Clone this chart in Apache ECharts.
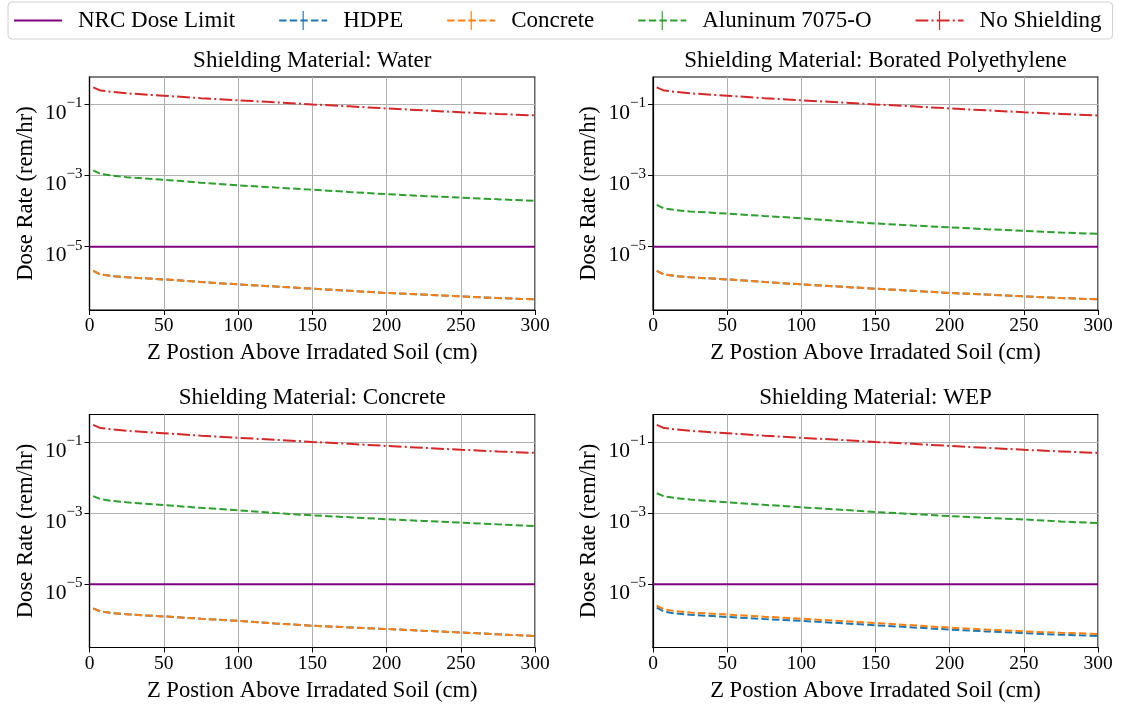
<!DOCTYPE html>
<html><head><meta charset="utf-8">
<script src="https://cdn.jsdelivr.net/npm/echarts@6/dist/echarts.min.js"></script>
<style>html,body{margin:0;padding:0;background:#fff}#c{width:1128px;height:706px}</style>
</head><body><div id="c"></div>
<script>
// ---- data ----
const zPos = [2.5, 7.5, 15, 25, 50, 75, 100, 125, 150, 175, 200, 225, 250, 275, 300];
const panelTitles = ['Shielding Material: Water', 'Shielding Material: Borated Polyethylene', 'Shielding Material: Concrete', 'Shielding Material: WEP'];
const seriesNames = ['NRC Dose Limit', 'HDPE', 'Concrete', 'Aluninum 7075-O', 'No Shielding'];
const nrcX = [0, 300];
const nrcLimit = 1e-5;
const noShielding = [0.30, 0.245, 0.225, 0.205, 0.175, 0.15, 0.13, 0.115, 0.10, 0.088, 0.077, 0.068, 0.060, 0.054, 0.049];
const hdpeWater = [2.1e-6, 1.65e-6, 1.5e-6, 1.38e-6, 1.2e-6, 1.02e-6, 8.7e-7, 7.6e-7, 6.6e-7, 5.75e-7, 5.0e-7, 4.5e-7, 4.0e-7, 3.6e-7, 3.3e-7];
const concreteWater = [2.1e-6, 1.65e-6, 1.5e-6, 1.38e-6, 1.2e-6, 1.02e-6, 8.7e-7, 7.6e-7, 6.6e-7, 5.75e-7, 5.0e-7, 4.5e-7, 4.0e-7, 3.6e-7, 3.3e-7];
const aluminumWater = [1.4e-3, 1.1e-3, 1.0e-3, 9.0e-4, 7.6e-4, 6.3e-4, 5.3e-4, 4.6e-4, 4.0e-4, 3.45e-4, 3.0e-4, 2.65e-4, 2.4e-4, 2.15e-4, 1.94e-4];
const hdpeBorated = [2.1e-6, 1.65e-6, 1.5e-6, 1.38e-6, 1.2e-6, 1.02e-6, 8.7e-7, 7.6e-7, 6.6e-7, 5.75e-7, 5.0e-7, 4.5e-7, 4.0e-7, 3.6e-7, 3.3e-7];
const concreteBorated = [2.1e-6, 1.65e-6, 1.5e-6, 1.38e-6, 1.2e-6, 1.02e-6, 8.7e-7, 7.6e-7, 6.6e-7, 5.75e-7, 5.0e-7, 4.5e-7, 4.0e-7, 3.6e-7, 3.3e-7];
const aluminumBorated = [1.5e-4, 1.18e-4, 1.07e-4, 9.8e-5, 8.5e-5, 7.3e-5, 6.3e-5, 5.3e-5, 4.5e-5, 3.95e-5, 3.5e-5, 3.1e-5, 2.8e-5, 2.5e-5, 2.3e-5];
const hdpeConcrete = [2.1e-6, 1.7e-6, 1.55e-6, 1.42e-6, 1.24e-6, 1.07e-6, 9.3e-7, 7.9e-7, 6.8e-7, 6.1e-7, 5.5e-7, 4.9e-7, 4.4e-7, 3.9e-7, 3.5e-7];
const concreteConcrete = [2.1e-6, 1.7e-6, 1.55e-6, 1.42e-6, 1.24e-6, 1.07e-6, 9.3e-7, 7.9e-7, 6.8e-7, 6.1e-7, 5.5e-7, 4.9e-7, 4.4e-7, 3.9e-7, 3.5e-7];
const aluminumConcrete = [3.0e-3, 2.45e-3, 2.2e-3, 2.0e-3, 1.67e-3, 1.4e-3, 1.19e-3, 1.0e-3, 8.6e-4, 7.6e-4, 6.7e-4, 6.0e-4, 5.4e-4, 4.8e-4, 4.3e-4];
const hdpeWEP = [2.2e-6, 1.7e-6, 1.5e-6, 1.38e-6, 1.2e-6, 1.05e-6, 9.3e-7, 8.1e-7, 7.0e-7, 6.1e-7, 5.3e-7, 4.7e-7, 4.2e-7, 3.8e-7, 3.5e-7];
const concreteWEP = [2.5e-6, 1.95e-6, 1.75e-6, 1.6e-6, 1.4e-6, 1.22e-6, 1.07e-6, 9.3e-7, 8.1e-7, 7.0e-7, 6.0e-7, 5.3e-7, 4.7e-7, 4.3e-7, 4.0e-7];
const aluminumWEP = [3.6e-3, 2.95e-3, 2.65e-3, 2.4e-3, 2.0e-3, 1.7e-3, 1.45e-3, 1.25e-3, 1.07e-3, 9.4e-4, 8.2e-4, 7.3e-4, 6.6e-4, 5.8e-4, 5.2e-4];
const xTickValues = [0, 50, 100, 150, 200, 250, 300];
const yTickValues = [1e-1, 1e-3, 1e-5];

const panelData = [
  [hdpeWater, concreteWater, aluminumWater],
  [hdpeBorated, concreteBorated, aluminumBorated],
  [hdpeConcrete, concreteConcrete, aluminumConcrete],
  [hdpeWEP, concreteWEP, aluminumWEP]
];

// ---- styling ----
const FONT = 'Liberation Serif';
const colors = ['#800080', '#1f77b4', '#ff7f0e', '#2ca02c', '#d62728'];
const lineTypes = ['solid', [7.4, 3.2], [7.4, 3.2], [7.4, 3.2], [12.8, 3.2, 2, 3.2]];
const barSymbol = 'path://M0,10 L0.02,10 L0.02,10.02 Z M20,10 L19.98,10 L19.98,10.02 Z M9.4,0 L10.6,0 L10.6,20 L9.4,20 Z';
const noSymbol = 'path://M0,0 L0.02,0 L0.02,0.02 Z M20,20 L19.98,20 L19.98,19.98 Z';
const grids = [
  {left: 89.5, top: 77, width: 445.5, height: 233},
  {left: 653, top: 77, width: 445, height: 233},
  {left: 89.5, top: 414.5, width: 445.5, height: 233},
  {left: 653, top: 414.5, width: 445, height: 233}
];
const yMin = Math.pow(10, -6.78), yMax = Math.pow(10, -0.23);

function yFmt(v) {
  const e = Math.round(Math.log10(v));
  return '{b|10}{s|' + (e < 0 ? '\u2212' : '') + Math.abs(e) + '}';
}

const xAxes = [], yAxes = [], series = [];
grids.forEach((g, i) => {
  xAxes.push({
    type: 'value', gridIndex: i, min: 0, max: 300, interval: 50,
    axisLine: {show: true, lineStyle: {color: '#000', width: 1.2}},
    axisTick: {show: true, length: 5, lineStyle: {color: '#000'}},
    axisLabel: {fontFamily: FONT, fontSize: 19.5, color: '#000', margin: 6, customValues: xTickValues},
    splitLine: {show: true, lineStyle: {color: '#b0b0b0', width: 1}},
    name: 'Z Postion Above Irradated Soil (cm)', nameLocation: 'middle', nameGap: 32,
    nameTextStyle: {fontFamily: FONT, fontSize: 22.6, color: '#000'}
  });
  xAxes.push({
    type: 'value', gridIndex: i, min: 0, max: 300, position: 'top',
    axisLine: {show: false}, axisTick: {show: false}, axisLabel: {show: false}, splitLine: {show: false},
    name: panelTitles[i], nameLocation: 'middle', nameGap: 5,
    nameTextStyle: {fontFamily: FONT, fontSize: 23, color: '#000'}
  });
  yAxes.push({
    type: 'log', gridIndex: i, min: yMin, max: yMax, logBase: 10,
    axisLine: {show: true, lineStyle: {color: '#000', width: 1.2}},
    axisTick: {show: true, length: 5, lineStyle: {color: '#000'}, customValues: yTickValues},
    axisLabel: {fontFamily: FONT, color: '#000', margin: 7, formatter: yFmt, customValues: yTickValues,
      padding: [18, 0, 0, 0],
      rich: {b: {fontFamily: FONT, fontSize: 21.5, color: '#000'},
             s: {fontFamily: FONT, fontSize: 15, color: '#000', padding: [0, 0, 20, 0]}}},
    splitLine: {show: true, lineStyle: {color: '#b0b0b0', width: 1}},
    minorTick: {show: false}, minorSplitLine: {show: false},
    name: 'Dose Rate (rem/hr)', nameLocation: 'middle', nameGap: 52,
    nameTextStyle: {fontFamily: FONT, fontSize: 22.6, color: '#000'}
  });

  const common = {type: 'line', xAxisIndex: i * 2, yAxisIndex: i, showSymbol: false, symbol: barSymbol, animation: false, silent: true};
  series.push(Object.assign({}, common, {
    name: seriesNames[0], symbol: noSymbol,
    data: nrcX.map(x => [x, nrcLimit]),
    lineStyle: {color: colors[0], width: 2, type: lineTypes[0]}, itemStyle: {color: colors[0]}
  }));
  const vals = [panelData[i][0], panelData[i][1], panelData[i][2], noShielding];
  vals.forEach((arr, k) => {
    series.push(Object.assign({}, common, {
      name: seriesNames[k + 1],
      data: zPos.map((x, j) => [x, arr[j]]),
      lineStyle: {color: colors[k + 1], width: 2, type: lineTypes[k + 1]}, itemStyle: {color: colors[k + 1]}
    }));
  });
});

const chart = echarts.init(document.getElementById('c'), null, {renderer: 'canvas'});
chart.setOption({
  animation: false,
  backgroundColor: '#fff',
  legend: {
    left: 8, top: 2, orient: 'horizontal',
    data: seriesNames,
    itemWidth: 48, itemHeight: 24, itemGap: 43,
    padding: [7, 11, 7, 5],
    borderColor: '#d0d0d0', borderWidth: 1, borderRadius: 4,
    textStyle: {fontFamily: FONT, fontSize: 23, color: '#000', padding: [0, 0, 0, 11]}
  },
  grid: grids.map(g => Object.assign({show: true, borderColor: '#000', borderWidth: 1.2, backgroundColor: 'transparent', containLabel: false}, g)),
  xAxis: xAxes,
  yAxis: yAxes,
  series: series
});
</script></body></html>
